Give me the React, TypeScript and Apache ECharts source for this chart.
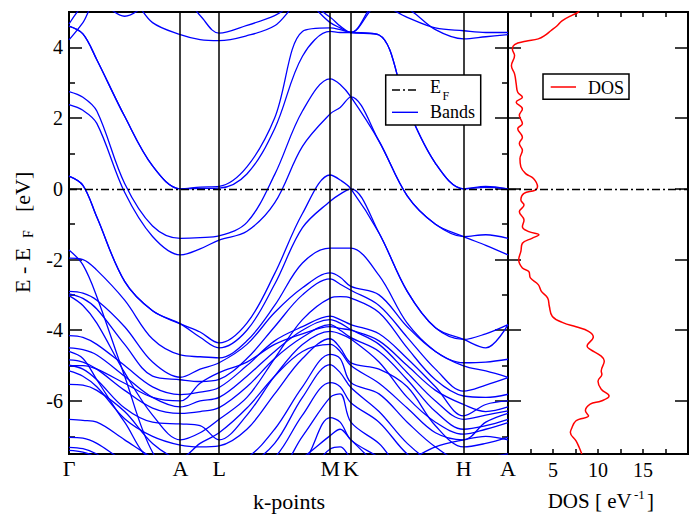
import React, { useEffect, useRef } from 'react';
import * as echarts from 'echarts';

// k-path sampling grid (path length units)
const K_GRID = [0, 0.139, 0.278, 0.556, 0.835, 1.113, 1.31, 1.5, 1.778, 2.055, 2.333, 2.61, 2.71, 2.817, 3.098, 3.38, 3.662, 3.943, 4.165, 4.387];
const SYM_K = [0, 1.113, 1.5, 2.61, 2.817, 3.943, 4.387];
const SYM_LABELS = ['Γ', 'A', 'L', 'M', 'K', 'H', 'A'];
const Y_MAJOR = [-6, -4, -2, 0, 2, 4];
const Y_MINOR = [-7, -5, -3, -1, 1, 3];

// band energies (eV) at K_GRID
const CB1 = [4.6, 4.38, 3.65, 2.05, 0.65, 0.0, 0.01, 0.02, 0.42, 1.7, 3.75, 4.45, 4.42, 4.42, 4.35, 2.3, 0.72, 0.0, 0.04, 0.0];
const CB2 = [4.6, 4.38, 3.65, 2.05, 0.65, 0.0, 0.05, 0.07, 0.62, 2.0, 4.45, 4.55, 4.5, 4.42, 4.35, 2.3, 0.72, 0.0, 0.07, 0.0];
const TA1 = [4.66, 5.2, 5.5, 5.5, 4.7, 4.36, 4.22, 4.19, 4.33, 4.61, 5.3, 4.7, 4.55, 4.42, 5.2, 4.85, 4.55, 4.47, 4.42, 4.42];
const TA2 = [4.21, 4.7, 5.3, 4.88, 5.3, 5.5, 4.9, 4.4, 4.62, 4.9, 5.3, 4.85, 4.6, 4.42, 5.3, 5.1, 4.5, 4.24, 4.3, 4.36];
const VB1A = [0.36, 0.1, -0.8, -2.62, -3.45, -3.82, -4.05, -4.36, -3.8, -2.4, -0.7, 0.39, 0.25, 0.0, -1.25, -2.9, -3.93, -4.26, -4.5, -3.84];
const VB1B = [0.36, 0.1, -0.8, -2.62, -3.45, -3.82, -4.2, -4.5, -4.0, -2.7, -1.1, -0.35, -0.15, 0.0, -1.25, -2.9, -3.93, -4.26, -4.1, -3.84];
const V2A = [2.75, 2.59, 2.2, 0.15, -1.05, -1.4, -1.38, -1.33, -0.95, 0.4, 2.2, 3.11, 2.95, 2.6, 1.35, -0.2, -1.0, -1.35, -1.3, -1.4];
const V2B = [2.38, 2.22, 1.85, -0.1, -1.35, -1.87, -1.7, -1.45, -1.2, -0.4, 1.2, 2.12, 2.3, 2.6, 1.35, -0.2, -1.0, -1.35, -1.6, -1.87];
const VB3 = [-1.96, -2.0, -2.3, -3.15, -4.25, -4.7, -4.75, -4.78, -4.3, -3.3, -2.1, -1.68, -1.68, -1.68, -2.45, -3.8, -4.6, -5.01, -5.15, -5.33];
const VB4 = [-1.73, -2.15, -3.05, -5.3, -7.45, -8.2, -8.2, -8.2, -8.2, -8.2, -7.8, -6.47, -6.6, -7.1, -7.6, -8.2, -8.2, -8.2, -8.2, -8.2];
const D1 = [-2.9, -2.95, -3.15, -3.9, -4.9, -5.33, -5.1, -4.92, -4.4, -3.5, -2.8, -2.38, -2.5, -2.76, -3.0, -3.9, -4.6, -4.92, -4.9, -4.82];
const D2 = [-2.97, -3.1, -3.4, -4.4, -5.3, -5.4, -5.45, -5.39, -4.8, -3.9, -3.0, -2.55, -2.7, -2.87, -3.3, -4.2, -5.1, -5.72, -5.55, -5.34];
const D3 = [-3.02, -3.3, -3.8, -5.2, -6.4, -7.1, -6.9, -6.52, -5.9, -4.8, -3.7, -3.09, -3.05, -3.09, -3.5, -4.5, -5.4, -5.86, -5.9, -5.81];
const D4 = [-4.15, -4.2, -4.4, -5.0, -5.6, -5.82, -5.75, -5.62, -5.0, -4.3, -3.9, -3.6, -3.7, -3.84, -4.1, -4.8, -5.6, -6.42, -6.1, -6.0];
const D5 = [-4.5, -4.55, -4.7, -5.3, -5.9, -6.17, -6.0, -5.9, -5.3, -4.6, -4.0, -3.7, -3.8, -3.98, -4.4, -5.2, -6.0, -6.52, -6.4, -6.28];
const D6 = [-4.84, -4.9, -5.1, -5.7, -6.2, -6.35, -6.3, -6.19, -5.6, -4.8, -4.2, -3.84, -4.0, -4.21, -4.6, -5.4, -6.3, -6.8, -6.7, -6.52];
const D7 = [-4.99, -5.1, -5.4, -6.2, -6.6, -6.65, -6.7, -7.1, -6.4, -5.3, -4.4, -4.03, -4.1, -4.25, -4.9, -5.9, -6.6, -6.94, -6.8, -6.61];
const D8 = [-5.15, -5.3, -5.6, -6.5, -7.0, -7.25, -7.3, -7.27, -6.8, -5.8, -4.8, -4.24, -4.5, -4.92, -5.1, -5.6, -6.7, -7.3, -7.2, -7.03];
const D9 = [-5.53, -5.55, -5.7, -6.3, -7.2, -7.7, -7.8, -7.8, -7.6, -6.8, -5.6, -4.68, -4.8, -5.48, -5.8, -6.6, -7.3, -7.7, -7.6, -7.5];
const D10 = [-6.52, -6.55, -6.6, -7.1, -7.6, -7.9, -7.9, -7.9, -7.8, -7.2, -5.9, -4.97, -5.2, -5.62, -6.3, -7.2, -7.8, -8.0, -7.8, -7.7];
const D11 = [-7.03, -7.05, -7.2, -7.7, -8, -8, -8, -8, -8, -7.6, -6.4, -5.48, -5.6, -6.05, -6.6, -7.5, -8, -8, -8, -8];
const D12 = [-7.31, -7.35, -7.5, -8, -8, -8, -8, -8, -8, -8, -7.0, -5.9, -5.8, -6.6, -7.2, -8, -8, -8, -8, -8];
const D13 = [-7.4, -7.45, -7.6, -8, -8, -8, -8, -8, -8, -8, -7.6, -6.98, -6.8, -7.1, -7.8, -8, -8, -8, -8, -8];
const D14 = [-7.9, -8, -8, -8, -8, -8, -8, -8, -8, -8, -8, -7.36, -7.3, -7.6, -8, -7.7, -7.3, -7.1, -7.0, -7.1];
const D15 = [-4.6, -4.8, -5.4, -6.6, -7.6, -7.6, -7.2, -6.9, -6.2, -5.3, -4.6, -4.4, -4.6, -5.0, -5.5, -6.2, -6.9, -7.1, -6.6, -6.35];
const D16 = [-5.0, -5.0, -5.1, -5.5, -5.9, -6.0, -5.5, -5.2, -4.9, -4.4, -4.1, -3.9, -3.95, -4.0, -4.3, -5.0, -5.7, -6.1, -6.3, -6.17];

const BANDS = [CB1, CB2, TA1, TA2, VB1A, VB1B, V2A, V2B, VB3, VB4, D1, D2, D3, D4, D5, D6, D7, D8, D9, D10, D11, D12, D13, D14, D15, D16];

// density of states
const DOS_E = [5.1, 4.98, 4.92, 4.75, 4.61, 4.47, 4.33, 4.24, 4.17, 4.08, 3.95, 3.77, 3.48, 3.25, 2.97, 2.73, 2.59, 2.45, 2.26, 2.08, 1.84, 1.7, 1.46, 1.28, 1.09, 0.86, 0.62, 0.43, 0.29, 0.06, -0.04, -0.13, -0.32, -0.46, -0.65, -0.88, -1.07, -1.21, -1.3, -1.4, -1.54, -1.77, -2.01, -2.24, -2.34, -2.52, -2.71, -2.9, -3.09, -3.32, -3.61, -3.79, -3.9, -4.03, -4.19, -4.45, -4.54, -4.73, -4.87, -5.15, -5.25, -5.44, -5.67, -5.86, -6.0, -6.09, -6.28, -6.42, -6.56, -6.8, -6.89, -7.13, -7.31, -7.5];
const DOS_V = [8.1, 7.73, 7.2, 6.0, 5.46, 4.76, 4.06, 3.36, 1.96, 0.73, 0.49, 0.73, 0.38, 0.73, 0.91, 1.08, 1.6, 0.91, 1.6, 1.26, 1.6, 1.08, 1.6, 1.26, 1.6, 1.33, 1.43, 1.96, 2.83, 3.28, 3.0, 1.78, 1.43, 1.78, 1.26, 1.78, 1.6, 2.31, 3.43, 2.66, 1.6, 1.43, 1.19, 1.6, 2.31, 2.49, 3.36, 3.71, 4.41, 4.59, 4.93, 6.16, 7.56, 8.95, 9.48, 8.79, 9.13, 10.36, 10.7, 10.36, 10.43, 10.0, 10.36, 11.23, 10.36, 9.13, 8.6, 8.95, 7.56, 7.03, 6.93, 7.56, 7.9, 8.2];

const FONT = 'Liberation Serif, DejaVu Serif, serif';
const FERMI_DASH = [8, 3, 2, 3];

function yAx(gridIndex: number, position: string, ticks: number[], length: number, labels: boolean) {
  return {
    type: 'value', gridIndex, position, min: -7.5, max: 5,
    axisLine: { show: false, onZero: false },
    splitLine: { show: false },
    axisTick: { show: true, inside: true, length, customValues: ticks, lineStyle: { color: '#000', width: 1.5 } },
    axisLabel: labels
      ? { show: true, customValues: ticks, color: '#000', fontFamily: FONT, fontSize: 20, margin: 6 }
      : { show: false },
  };
}

function txt(text: string, x: number, y: number, size: number, align = 'left') {
  return {
    type: 'text', x, y, z: 100,
    style: {
      text, fill: '#000', fontFamily: FONT, fontSize: size,
      align, verticalAlign: 'middle',
    },
  };
}

export default function App() {
  const ref = useRef<HTMLDivElement>(null);
  useEffect(() => {
    const chart = echarts.init(ref.current!, null, { renderer: 'svg' });
    const bandSeries = BANDS.map((b, i) => {
      const s: any = {
        type: 'line', xAxisIndex: 0, yAxisIndex: 0, silent: true, clip: true,
        data: K_GRID.map((k, j) => [k, b[j]]),
        smooth: 0.35, symbol: 'none',
        lineStyle: { color: '#0000ff', width: 1.3 },
      };
      if (i === 0) {
        s.markLine = {
          silent: true, symbol: ['none', 'none'], label: { show: false }, animation: false,
          data: [
            ...SYM_K.slice(1, 6).map((v) => ({ xAxis: v, lineStyle: { color: '#000', width: 1.5, type: 'solid' } })),
            { yAxis: 0, lineStyle: { color: '#000', width: 1.4, type: FERMI_DASH } },
          ],
        };
      }
      return s;
    });
    const option: any = {
      animation: false,
      backgroundColor: '#fff',
      textStyle: { fontFamily: FONT },
      grid: [
        { left: 69, top: 12, width: 439, height: 442, show: true, borderColor: '#000', borderWidth: 2, backgroundColor: 'transparent' },
        { left: 508, top: 12, width: 190.6, height: 442, show: true, borderColor: '#000', borderWidth: 2, backgroundColor: 'transparent' },
      ],
      xAxis: [
        {
          type: 'value', gridIndex: 0, min: 0, max: 4.387, position: 'bottom',
          axisLine: { show: false, onZero: false }, axisTick: { show: false }, splitLine: { show: false },
          axisLabel: {
            customValues: SYM_K, color: '#000', fontFamily: FONT, fontSize: 22, margin: 3,
            formatter: (v: number) => {
              let best = 0;
              SYM_K.forEach((k, i) => { if (Math.abs(k - v) < Math.abs(SYM_K[best] - v)) best = i; });
              return SYM_LABELS[best];
            },
          },
        },
        {
          type: 'value', gridIndex: 1, min: 0, max: 20, interval: 2.5, position: 'bottom',
          axisLine: { show: false, onZero: false }, splitLine: { show: false },
          axisTick: { show: true, inside: true, length: 5, lineStyle: { color: '#000', width: 1.5 } },
          axisLabel: {
            color: '#000', fontFamily: FONT, fontSize: 20, margin: 6, showMinLabel: true, showMaxLabel: true,
            formatter: (v: number) => (v % 5 === 0 && v > 0 && v < 20 ? String(v) : ''),
          },
        },
        {
          type: 'value', gridIndex: 1, min: 0, max: 20, interval: 2.5, position: 'top',
          axisLine: { show: false, onZero: false }, splitLine: { show: false },
          axisTick: { show: true, inside: true, length: 5, lineStyle: { color: '#000', width: 1.5 } },
          axisLabel: { show: false },
        },
      ],
      yAxis: [
        yAx(0, 'left', Y_MAJOR, 13, true),
        yAx(0, 'left', Y_MINOR, 6, false),
        yAx(0, 'right', Y_MAJOR, 13, false),
        yAx(0, 'right', Y_MINOR, 6, false),
        yAx(1, 'left', Y_MAJOR, 13, false),
        yAx(1, 'right', Y_MAJOR, 13, false),
      ],
      series: [
        ...bandSeries,
        {
          type: 'line', xAxisIndex: 1, yAxisIndex: 4, silent: true, clip: true,
          data: DOS_E.map((e, i) => [DOS_V[i], e]),
          smooth: 0.4, symbol: 'none',
          lineStyle: { color: '#ff0000', width: 1.5 },
          markLine: {
            silent: true, symbol: ['none', 'none'], label: { show: false }, animation: false,
            data: [{ yAxis: 0, lineStyle: { color: '#000', width: 1.4, type: FERMI_DASH } }],
          },
        },
      ],
      graphic: [
        {
          type: 'group', x: 22, y: 293, rotation: Math.PI / 2, z: 100,
          children: [
            txt('E - E', 0, 0, 22),
            txt('F', 55, 6, 14),
            txt('[eV]', 81, 0, 22),
          ],
        },
        txt('k-points', 289, 501, 22, 'center'),
        txt('DOS [ eV', 547.7, 501, 21),
        txt('-1', 634, 494, 13),
        txt(']', 647, 501, 21),
        // legend 1
        { type: 'rect', z: 99, shape: { x: 385.7, y: 75, width: 95, height: 50 }, style: { fill: '#fff', stroke: '#000', lineWidth: 1.5 } },
        { type: 'line', z: 100, shape: { x1: 392, y1: 90, x2: 418, y2: 90 }, style: { stroke: '#000', lineWidth: 1.4, lineDash: FERMI_DASH } },
        txt('E', 430, 87, 18),
        txt('F', 442.5, 95.5, 12),
        { type: 'line', z: 100, shape: { x1: 392, y1: 112.3, x2: 418, y2: 112.3 }, style: { stroke: '#0000ff', lineWidth: 1.4 } },
        txt('Bands', 430, 111.7, 18),
        // legend 2
        { type: 'rect', z: 99, shape: { x: 543, y: 74, width: 86, height: 25.3 }, style: { fill: '#fff', stroke: '#000', lineWidth: 1.5 } },
        { type: 'line', z: 100, shape: { x1: 550.7, y1: 87, x2: 576, y2: 87 }, style: { stroke: '#ff0000', lineWidth: 1.5 } },
        txt('DOS', 588, 87.5, 18),
      ],
    };
    chart.setOption(option);
    return () => chart.dispose();
  }, []);
  return <div ref={ref} style={{ position: 'fixed', left: 0, top: 0, width: 691, height: 514, background: '#fff' }} />;
}
